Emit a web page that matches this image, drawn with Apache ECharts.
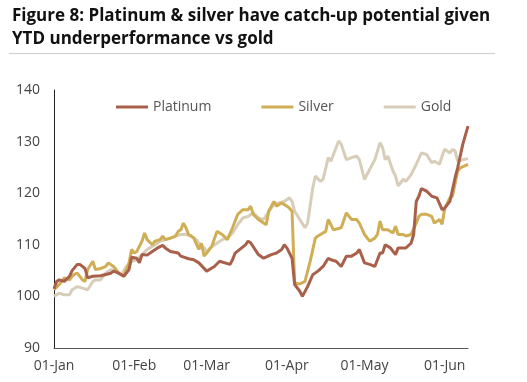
<!DOCTYPE html>
<html>
<head>
<meta charset="utf-8">
<script src="https://cdn.jsdelivr.net/npm/echarts@6/dist/echarts.min.js"></script>
<style>
html,body{margin:0;padding:0;background:#fff;}
#chart{width:527px;height:382px;}
</style>
</head>
<body>
<div id="chart"></div>
<script>
// Days since 1 Jan (x) and index values (Jan 1 = 100)
const monthTickDays = [0, 31, 59, 90, 120, 151];
const monthTickLabels = ['01-Jan', '01-Feb', '01-Mar', '01-Apr', '01-May', '01-Jun'];
const yTicks = [90, 100, 110, 120, 130, 140];

const platinumDays = [0,1,2,4,6,7,9,10,12,13,15,18,22,23,25,27,29,30,32,33,34,36,38,40,42,43,45,48,49,52,54,56,59,62,64,68,69,70,74,75,76,79,81,84,86,88,89,90,92,93,95,96,98,100,102,104,106,107,109,111,113,115,117,118,120,122,124,126,127,128,130,132,133,136,138,139,140,141,142,144,146,148,150,151,153,155,156,158,160];
const platinumValues = [101.5,102.9,103.2,102.9,103.9,105.0,106.2,106.2,105.4,103.6,103.9,104.0,104.5,104.9,104.5,103.9,105.2,107.6,107.4,106.5,108.1,108.0,108.7,109.4,109.9,109.4,108.7,108.4,107.8,107.3,107.1,106.5,104.9,105.8,106.8,106.2,107.1,108.4,110.0,110.7,110.4,108.1,107.4,108.1,108.4,109.1,110.0,109.4,107.4,102.3,101.0,100.0,101.9,104.2,104.9,105.8,107.4,107.1,106.8,105.8,107.8,107.8,108.4,109.1,106.5,106.2,105.8,108.4,108.4,110.0,109.4,108.1,109.4,109.4,110.3,112.0,118.4,119.4,120.9,120.4,119.4,119.1,116.8,117.1,118.4,123.0,124.9,129.5,133.0];

const silverDays = [0,2,3,4,6,7,8,9,11,12,13,15,16,18,20,21,23,24,25,27,29,30,31,32,34,35,36,38,39,41,42,43,45,47,48,49,50,51,52,53,54,56,57,58,59,61,63,65,67,69,71,73,75,76,77,79,82,83,85,86,88,90,91,92,93,95,97,99,101,102,103,105,106,108,111,113,115,117,118,120,122,124,125,126,127,129,131,132,133,135,136,138,140,141,142,144,146,147,149,150,151,153,154,156,157,160];
const silverValues = [101.3,102.3,102.9,103.6,103.2,103.9,104.3,104.5,103.2,102.9,105.2,106.8,105.2,105.4,105.8,106.5,105.8,105.2,104.5,103.9,106.5,109.1,108.4,108.7,110.7,112.3,111.0,110.0,110.7,111.0,111.7,111.0,111.3,111.7,112.6,112.9,114.2,113.3,112.0,111.7,111.3,109.1,110.3,107.8,108.4,109.7,112.6,112.0,111.0,113.3,115.9,116.8,116.8,117.5,115.9,114.9,113.9,116.5,118.4,117.5,118.1,117.5,117.1,116.5,102.6,102.4,102.9,106.8,111.3,111.7,112.0,112.6,114.9,112.9,113.3,116.2,114.9,114.9,114.2,112.0,110.7,111.3,112.0,114.6,112.9,112.9,112.3,113.6,112.0,112.0,111.7,112.0,114.2,115.5,115.9,115.9,115.5,114.2,114.9,114.0,117.1,119.1,119.4,124.3,124.9,125.6];

const goldDays = [0,2,4,6,7,9,11,13,15,16,18,20,22,24,26,28,30,32,34,36,38,40,41,43,45,47,49,51,53,55,56,58,59,61,63,65,67,69,71,73,75,77,79,81,83,85,87,89,91,92,93,95,97,98,100,101,103,104,106,107,109,110,111,113,115,117,118,120,122,124,126,127,128,129,131,132,133,135,136,138,140,142,144,146,147,149,150,151,153,154,155,156,158,160];
const goldValues = [100.0,100.6,100.3,100.3,101.3,101.9,101.6,101.3,102.9,103.2,103.2,104.5,105.2,104.9,104.2,105.8,106.8,107.1,108.1,109.1,109.7,110.3,110.7,111.0,111.3,111.7,112.0,112.0,111.7,111.0,110.3,109.4,108.7,109.7,110.3,111.0,111.3,112.3,113.9,115.2,115.5,116.2,115.2,114.9,116.5,117.8,118.1,118.4,119.1,118.4,116.5,114.9,113.3,114.2,121.0,123.3,122.3,122.7,126.9,126.2,128.8,130.1,129.5,126.5,126.9,127.2,126.5,122.7,124.6,126.5,129.8,128.8,126.5,127.2,124.3,123.3,121.4,122.7,122.3,123.6,125.6,127.8,127.5,125.9,126.2,125.6,127.2,128.5,127.8,128.5,128.2,126.2,126.5,126.7];

const seriesNames = ['Platinum', 'Silver', 'Gold'];
const seriesColors = ['#A8604A', '#CFAE55', '#D8CDB8'];

function pairs(xs, ys) { return xs.map((x, i) => [x, ys[i]]); }
const seriesData = [pairs(platinumDays, platinumValues), pairs(silverDays, silverValues), pairs(goldDays, goldValues)];

const FONT = '"Open Sans", "DejaVu Sans", sans-serif';
const chart = echarts.init(document.getElementById('chart'), null, {renderer: 'canvas'});
chart.setOption({
  animation: false,
  backgroundColor: '#ffffff',
  title: {
    text: 'Figure 8: Platinum & silver have catch-up potential given\nYTD underperformance vs gold',
    left: 7, top: 0,
    textStyle: {fontFamily: FONT, fontSize: 17, fontWeight: 'bold', color: '#111', lineHeight: 23}
  },
  graphic: [{
    type: 'line', shape: {x1: 9, y1: 53.5, x2: 495, y2: 53.5},
    style: {stroke: '#cfcfcf', lineWidth: 1}, silent: true
  }],
  legend: {
    data: seriesNames.map(n => ({name: n, icon: 'rect'})),
    left: 116, top: 100, itemWidth: 32, itemHeight: 3, itemGap: 50, padding: 0,
    textStyle: {fontFamily: FONT, fontSize: 14, color: '#555'}
  },
  grid: {left: 54, right: 59, top: 90, bottom: 34, containLabel: false},
  xAxis: {
    type: 'value', min: 0, max: 160,
    axisLine: {show: true, lineStyle: {color: '#555', width: 1}},
    axisTick: {show: false},
    splitLine: {show: false},
    axisLabel: {
      customValues: monthTickDays,
      formatter: v => monthTickLabels[monthTickDays.indexOf(v)] || '',
      fontFamily: FONT, fontSize: 14, color: '#444', margin: 11
    }
  },
  yAxis: {
    type: 'value', min: yTicks[0], max: yTicks[yTicks.length - 1], interval: 10,
    axisLine: {show: true, lineStyle: {color: '#222', width: 1}},
    axisTick: {show: false},
    splitLine: {show: false},
    axisLabel: {fontFamily: FONT, fontSize: 14, color: '#444', margin: 14}
  },
  series: seriesNames.map((n, i) => ({
    name: n, type: 'line', data: seriesData[i], showSymbol: false, symbol: 'none',
    lineStyle: {color: seriesColors[i], width: 3}, itemStyle: {color: seriesColors[i]},
    z: 3 - i
  }))
});
</script>
</body>
</html>
